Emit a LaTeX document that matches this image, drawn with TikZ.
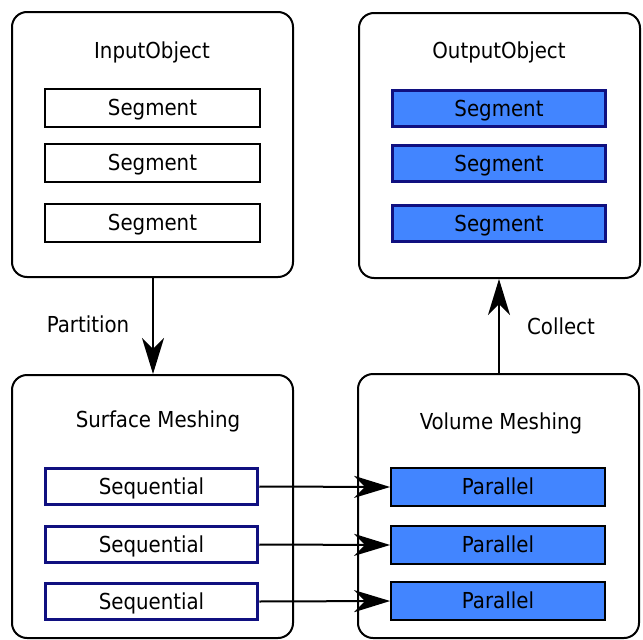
\documentclass[tikz,border=0pt]{standalone}
\usepackage{fontspec}
\setmainfont{DejaVu Sans Condensed}
\usetikzlibrary{arrows.meta}
\definecolor{segblue}{RGB}{66,133,255}
\definecolor{navy}{RGB}{16,16,128}
\begin{document}
\begin{tikzpicture}[x=1pt,y=-1pt,
  every node/.style={font=\fontsize{22}{25}\selectfont,text height=20pt,text depth=5pt},
  stage/.style={draw,line width=2pt,rounded corners=15pt,fill=white},
  plainseg/.style={draw,line width=1.8pt,fill=white},
  doneseg/.style={draw=navy,line width=3.5pt,fill=segblue},
  seqseg/.style={draw=navy,line width=3.5pt,fill=white},
  parseg/.style={draw,line width=1.8pt,fill=segblue},
  flow/.style={line width=2pt,-{Stealth[length=36pt,width=22pt,inset=11pt]}}]
\useasboundingbox (0,0) rectangle (643,640);

% stage frames
\draw[stage] (12,12) rectangle (293,277);
\draw[stage] (359,13) rectangle (640,278);
\draw[stage] (12,375) rectangle (293,638);
\draw[stage] (358,374) rectangle (639,638);
\coordinate (inB) at (153,277);
\coordinate (sfT) at (153,374);
\coordinate (vmT) at (499,374);
\coordinate (outB) at (499,279);

% titles
\node (tin)  at (152,50.5)  {InputObject};
\node (tout) at (499,50.5)  {OutputObject};
\node (tsm)  at (158,419.5) {Surface Meshing};
\node (tvm)  at (501,421.5) {Volume Meshing};

% input segments
\node[plainseg,minimum width=215pt,minimum height=38pt] (i1) at (152.5,108) {Segment};
\node[plainseg,minimum width=215pt,minimum height=38pt] (i2) at (152.5,163) {Segment};
\node[plainseg,minimum width=215pt,minimum height=38pt] (i3) at (152.5,223) {Segment};

% output segments
\node[doneseg,minimum width=213pt,minimum height=36pt] (o1) at (499,108.5) {Segment};
\node[doneseg,minimum width=213pt,minimum height=36pt] (o2) at (499,163.5) {Segment};
\node[doneseg,minimum width=213pt,minimum height=36pt] (o3) at (499,223.5) {Segment};

% sequential workers
\node[seqseg,minimum width=212pt,minimum height=36pt] (s1) at (151.5,486.5) {Sequential};
\node[seqseg,minimum width=212pt,minimum height=36pt] (s2) at (151.5,544.5) {Sequential};
\node[seqseg,minimum width=212pt,minimum height=36pt] (s3) at (151.5,601.5) {Sequential};

% parallel workers
\node[parseg,minimum width=214pt,minimum height=38pt] (p1) at (498,487) {Parallel};
\node[parseg,minimum width=214pt,minimum height=38pt] (p2) at (498,545) {Parallel};
\node[parseg,minimum width=214pt,minimum height=38pt] (p3) at (498,601) {Parallel};

% connectors
\draw[flow] (inB) -- (sfT);
\draw[flow] (vmT) -- (outB);
\draw[flow] (s1.east) -- (p1.west);
\draw[flow] (s2.east) -- (p2.west);
\draw[flow] (s3.east) -- (p3.west);

\node (lpart) at (88,324.5) {Partition};
\node (lcol)  at (561,326.5) {Collect};
\end{tikzpicture}
\end{document}
